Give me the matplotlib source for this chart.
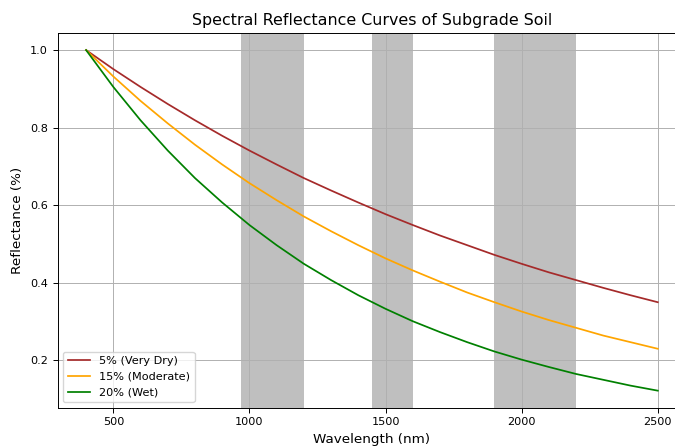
import matplotlib
matplotlib.use("Agg")
import matplotlib.pyplot as plt

# wavelength samples (nm) and reflectance read every 100 nm
wavelength = [400, 500, 600, 700, 800, 900, 1000, 1100, 1200, 1300, 1400,
              1500, 1600, 1700, 1800, 1900, 2000, 2100, 2200, 2300, 2400, 2500]

refl_very_dry = [1.000, 0.951, 0.905, 0.861, 0.819, 0.779, 0.741, 0.705,
                 0.670, 0.638, 0.607, 0.577, 0.549, 0.522, 0.497, 0.472,
                 0.449, 0.427, 0.407, 0.387, 0.368, 0.350]
refl_moderate = [1.000, 0.932, 0.869, 0.811, 0.756, 0.705, 0.657, 0.613,
                 0.571, 0.533, 0.497, 0.463, 0.432, 0.403, 0.375, 0.350,
                 0.326, 0.304, 0.284, 0.264, 0.247, 0.230]
refl_wet = [1.000, 0.905, 0.819, 0.741, 0.670, 0.607, 0.549, 0.497,
            0.449, 0.407, 0.368, 0.333, 0.301, 0.273, 0.247, 0.223,
            0.202, 0.183, 0.165, 0.150, 0.135, 0.122]

# water absorption bands (nm)
band_starts = [970, 1450, 1900]
band_ends = [1200, 1600, 2200]

fig = plt.figure(figsize=(6.75, 4.46), dpi=100)
# plot area runs slightly past the right edge of the canvas
ax = fig.add_axes([0.0852, 0.0859, 0.9316, 0.840])

lw = 1.25
ax.plot(wavelength, refl_very_dry, color="brown", lw=lw, label="5% (Very Dry)")
ax.plot(wavelength, refl_moderate, color="orange", lw=lw, label="15% (Moderate)")
ax.plot(wavelength, refl_wet, color="green", lw=lw, label="20% (Wet)")

for start, end in zip(band_starts, band_ends):
    ax.axvspan(start, end, color="gray", alpha=0.5, lw=0)

ax.set_title("Spectral Reflectance Curves of Subgrade Soil", fontsize=11.4)
ax.set_xlabel("Wavelength (nm)", fontsize=9.7)
ax.set_ylabel("Reflectance (%)", fontsize=9.7)
ax.tick_params(labelsize=8.1, width=0.7)
for spine in ax.spines.values():
    spine.set_linewidth(0.7)
ax.grid(True, lw=0.7)
ax.legend(loc="lower left", fontsize=8.1)

fig.savefig("out.png")
